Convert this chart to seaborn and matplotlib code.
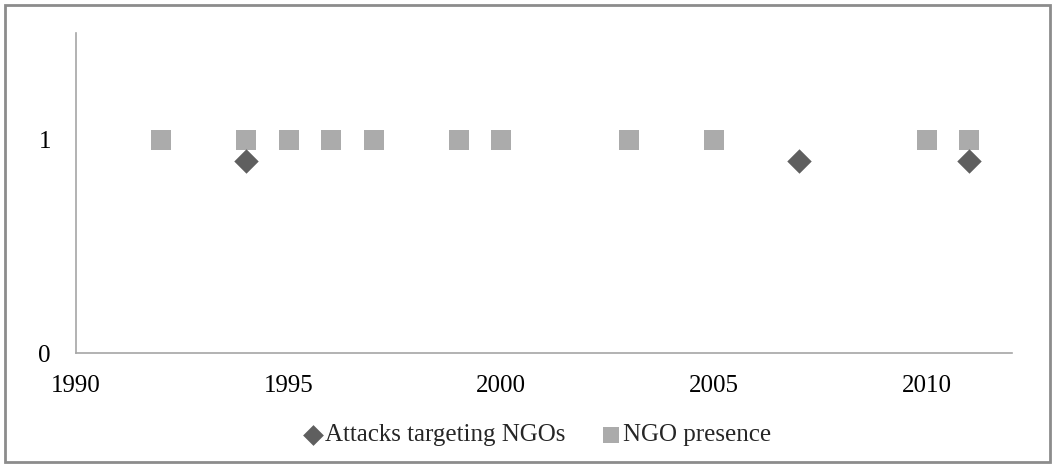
import matplotlib
matplotlib.use("Agg")
import matplotlib.pyplot as plt
from matplotlib.patches import Rectangle
import seaborn as sns
import pandas as pd

attack_years = [1994, 2007, 2011]
attack_values = [0.9, 0.9, 0.9]
presence_years = [1992, 1994, 1995, 1996, 1997, 1999, 2000, 2003, 2005, 2010, 2011]
presence_values = [1, 1, 1, 1, 1, 1, 1, 1, 1, 1, 1]
series_names = ["Attacks targeting NGOs", "NGO presence"]
x_ticks = [1990, 1995, 2000, 2005, 2010]
y_ticks = [0, 1]

df = pd.concat([
    pd.DataFrame({"year": attack_years, "value": attack_values, "series": series_names[0]}),
    pd.DataFrame({"year": presence_years, "value": presence_values, "series": series_names[1]}),
])

sns.set_theme(style="white")
plt.rcParams["font.family"] = ["Liberation Serif", "DejaVu Serif"]

fig = plt.figure(figsize=(10.55, 4.67), dpi=100)
ax = fig.add_axes([0.072, 0.244, 0.887, 0.685])

palette = {series_names[0]: "#5f5f5f", series_names[1]: "#ababab"}
markers = {series_names[0]: "D", series_names[1]: "s"}
sizes = {series_names[0]: 155, series_names[1]: 205}

for name in series_names:
    sub = df[df["series"] == name]
    sns.scatterplot(data=sub, x="year", y="value", ax=ax, color=palette[name],
                    marker=markers[name], s=sizes[name], linewidth=0, label=name,
                    zorder=3 if name == series_names[0] else 2)

ax.set_xlim(1990, 2012)
ax.set_ylim(0, 1.5)
ax.set_xticks(x_ticks)
ax.set_yticks(y_ticks)
ax.set_xlabel("")
ax.set_ylabel("")
ax.tick_params(axis="both", length=0, labelsize=18, colors="black")
ax.tick_params(axis="x", pad=16)
ax.tick_params(axis="y", pad=18)
for side in ["top", "right"]:
    ax.spines[side].set_visible(False)
for side in ["left", "bottom"]:
    ax.spines[side].set_color("#a6a6a6")
    ax.spines[side].set_linewidth(1.2)

ax.legend_.remove()
handles, labels = ax.get_legend_handles_labels()
fig.legend(handles, labels, loc="center", bbox_to_anchor=(0.508, 0.068), ncol=2,
           frameon=False, fontsize=18, handletextpad=0.0, columnspacing=1.3,
           markerscale=0.85, handlelength=1.0)

fig.patches.append(Rectangle((5 / 1055, 5 / 467), 1045 / 1055, 457 / 467,
                             transform=fig.transFigure, fill=False,
                             edgecolor="#8c8c8c", linewidth=2))

fig.savefig("out.png", dpi=100)
